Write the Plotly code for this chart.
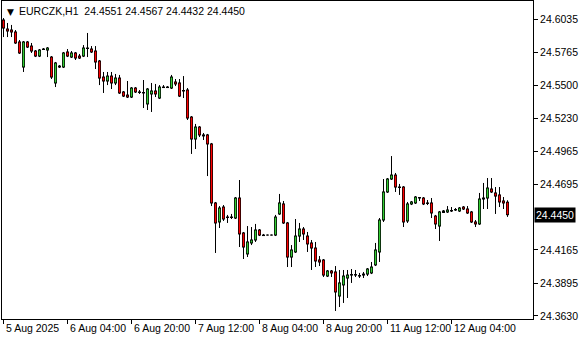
import plotly.graph_objects as go
import pandas as pd

symbol = "EURCZK,H1"

open_ = [24.6027, 24.5954, 24.5946, 24.5930, 24.5849, 24.5646, 24.5849, 24.5816, 24.5776, 24.5735,
         24.5792, 24.5784, 24.5727, 24.5517, 24.5654, 24.5646, 24.5768, 24.5727, 24.5760, 24.5735,
         24.5735, 24.5800, 24.5792, 24.5776, 24.5695, 24.5565, 24.5533, 24.5573, 24.5517, 24.5557,
         24.5444, 24.5419, 24.5403, 24.5476, 24.5444, 24.5436, 24.5347, 24.5428, 24.5452, 24.5395,
         24.5484, 24.5480, 24.5476, 24.5525, 24.5517, 24.5456, 24.5460, 24.5241, 24.5063, 24.5160,
         24.5096, 24.5096, 24.5023, 24.4545, 24.4391, 24.4512, 24.4431, 24.4427, 24.4423, 24.4585,
         24.4302, 24.4132, 24.4221, 24.4245, 24.4326, 24.4285, 24.4285, 24.4285, 24.4285, 24.4456,
         24.4537, 24.4383, 24.4107, 24.4148, 24.4277, 24.4334, 24.4277, 24.4221, 24.4180, 24.4083,
         24.4083, 24.3953, 24.3994, 24.3986, 24.3791, 24.3881, 24.3937, 24.3961, 24.3965, 24.3957,
         24.3961, 24.3969, 24.3978, 24.4043, 24.4148, 24.4407, 24.4634, 24.4739, 24.4771, 24.4674,
         24.4674, 24.4399, 24.4537, 24.4545, 24.4589, 24.4585, 24.4545, 24.4545, 24.4439, 24.4358,
         24.4468, 24.4472, 24.4480, 24.4488, 24.4480, 24.4512, 24.4496, 24.4472, 24.4391, 24.4375,
         24.4577, 24.4585, 24.4658, 24.4626, 24.4610, 24.4561, 24.4551]
high = [24.6043, 24.6003, 24.5987, 24.5946, 24.5865, 24.5857, 24.5857, 24.5841, 24.5784, 24.5792,
        24.5800, 24.5808, 24.5735, 24.5687, 24.5662, 24.5768, 24.5792, 24.5776, 24.5768, 24.5752,
        24.5824, 24.5922, 24.5816, 24.5816, 24.5703, 24.5606, 24.5606, 24.5606, 24.5590, 24.5582,
        24.5452, 24.5533, 24.5484, 24.5484, 24.5460, 24.5541, 24.5476, 24.5517, 24.5509, 24.5500,
        24.5500, 24.5492, 24.5582, 24.5549, 24.5549, 24.5573, 24.5476, 24.5249, 24.5185, 24.5168,
        24.5112, 24.5104, 24.5031, 24.4553, 24.4520, 24.4528, 24.4448, 24.4456, 24.4593, 24.4731,
        24.4310, 24.4358, 24.4350, 24.4375, 24.4334, 24.4294, 24.4290, 24.4290, 24.4448, 24.4618,
        24.4561, 24.4391, 24.4204, 24.4415, 24.4383, 24.4350, 24.4310, 24.4245, 24.4229, 24.4115,
        24.4091, 24.4002, 24.4002, 24.4034, 24.4002, 24.4002, 24.4002, 24.4010, 24.4002, 24.3978,
        24.3986, 24.4018, 24.4067, 24.4221, 24.4423, 24.4739, 24.4747, 24.4925, 24.4788, 24.4699,
        24.4682, 24.4553, 24.4561, 24.4601, 24.4593, 24.4593, 24.4569, 24.4585, 24.4448, 24.4480,
        24.4488, 24.4520, 24.4512, 24.4504, 24.4512, 24.4520, 24.4520, 24.4480, 24.4407, 24.4626,
        24.4707, 24.4747, 24.4747, 24.4674, 24.4674, 24.4593, 24.4567]
low = [24.5889, 24.5889, 24.5889, 24.5833, 24.5752, 24.5606, 24.5800, 24.5760, 24.5727, 24.5727,
       24.5784, 24.5727, 24.5549, 24.5484, 24.5638, 24.5638, 24.5727, 24.5719, 24.5703, 24.5711,
       24.5727, 24.5727, 24.5760, 24.5630, 24.5500, 24.5436, 24.5500, 24.5468, 24.5500, 24.5428,
       24.5403, 24.5395, 24.5395, 24.5436, 24.5428, 24.5314, 24.5298, 24.5282, 24.5403, 24.5387,
       24.5476, 24.5476, 24.5468, 24.5492, 24.5403, 24.5395, 24.5217, 24.4942, 24.4982, 24.5079,
       24.5055, 24.4763, 24.4520, 24.4140, 24.4342, 24.4399, 24.4383, 24.4415, 24.4415, 24.4188,
       24.4091, 24.4107, 24.4204, 24.4229, 24.4277, 24.4281, 24.4281, 24.4281, 24.4277, 24.4448,
       24.4375, 24.4026, 24.4026, 24.4140, 24.4229, 24.4245, 24.4148, 24.4002, 24.4026, 24.4034,
       24.3945, 24.3945, 24.3945, 24.3670, 24.3702, 24.3735, 24.3775, 24.3897, 24.3945, 24.3937,
       24.3937, 24.3953, 24.3969, 24.4034, 24.4067, 24.4391, 24.4626, 24.4731, 24.4634, 24.4610,
       24.4350, 24.4383, 24.4528, 24.4537, 24.4561, 24.4528, 24.4528, 24.4423, 24.4334, 24.4237,
       24.4464, 24.4464, 24.4472, 24.4480, 24.4472, 24.4488, 24.4456, 24.4383, 24.4350, 24.4367,
       24.4496, 24.4496, 24.4626, 24.4456, 24.4512, 24.4496, 24.4432]
close = [24.5962, 24.5938, 24.5930, 24.5841, 24.5760, 24.5849, 24.5808, 24.5776, 24.5735, 24.5784,
         24.5788, 24.5800, 24.5565, 24.5679, 24.5646, 24.5760, 24.5735, 24.5760, 24.5719, 24.5719,
         24.5800, 24.5796, 24.5768, 24.5687, 24.5557, 24.5533, 24.5573, 24.5517, 24.5557, 24.5436,
         24.5411, 24.5403, 24.5476, 24.5444, 24.5440, 24.5440, 24.5468, 24.5452, 24.5428, 24.5484,
         24.5480, 24.5484, 24.5565, 24.5509, 24.5411, 24.5452, 24.5233, 24.5063, 24.5160, 24.5096,
         24.5088, 24.5023, 24.4545, 24.4383, 24.4504, 24.4415, 24.4427, 24.4431, 24.4585, 24.4294,
         24.4188, 24.4229, 24.4245, 24.4326, 24.4285, 24.4281, 24.4285, 24.4285, 24.4431, 24.4545,
         24.4383, 24.4107, 24.4164, 24.4277, 24.4334, 24.4294, 24.4213, 24.4180, 24.4075, 24.4067,
         24.3961, 24.3994, 24.3978, 24.3824, 24.3897, 24.3953, 24.3961, 24.3965, 24.3961, 24.3953,
         24.3969, 24.4010, 24.4026, 24.4164, 24.4407, 24.4634, 24.4739, 24.4771, 24.4674, 24.4670,
         24.4391, 24.4537, 24.4553, 24.4593, 24.4585, 24.4537, 24.4541, 24.4464, 24.4375, 24.4472,
         24.4480, 24.4488, 24.4484, 24.4492, 24.4504, 24.4496, 24.4464, 24.4391, 24.4375, 24.4577,
         24.4585, 24.4666, 24.4634, 24.4601, 24.4553, 24.4545, 24.4450]

price_ticks = [24.6035, 24.5765, 24.5500, 24.5230, 24.4965, 24.4695, 24.4165, 24.3895, 24.3630]
time_ticks = ["2025-08-05 12:00", "2025-08-06 04:00", "2025-08-06 20:00", "2025-08-07 12:00",
              "2025-08-08 04:00", "2025-08-08 20:00", "2025-08-11 12:00", "2025-08-12 04:00"]
time_tick_labels = ["5 Aug 2025", "6 Aug 04:00", "6 Aug 20:00", "7 Aug 12:00",
                    "8 Aug 04:00", "8 Aug 20:00", "11 Aug 12:00", "12 Aug 04:00"]

times = pd.date_range("2025-08-05 12:00", "2025-08-12 18:00", freq="h")
times = times[times.dayofweek < 5]
xs = list(range(len(times)))
time_index = {t.strftime("%Y-%m-%d %H:%M"): i for i, t in enumerate(times)}
tick_pos = [time_index[t] for t in time_ticks]

UP, DOWN = "#32cd32", "#ff0000"
FONT = "Liberation Sans"
W, H = 580, 340
MARGIN = dict(l=2, r=47, t=1, b=21)
Y_RANGE = [24.3605, 24.6181]
X_RANGE = [-0.375, 132.375]
px_y = (Y_RANGE[1] - Y_RANGE[0]) / (H - MARGIN["t"] - MARGIN["b"])   # price per screen pixel

# wicks (full high-low), black body outline (3 px thick line), coloured body fill
wick_x, wick_y = [], []
out_x, out_y = [], []
up_x, up_y, dn_x, dn_y = [], [], [], []
for i, o, h, l, c in zip(xs, open_, high, low, close):
    t, b = max(o, c), min(o, c)
    wick_x += [i, i, None]
    wick_y += [l, h, None]
    out_x += [i, i, None]
    out_y += [b - 0.5 * px_y, t + 0.5 * px_y, None]
    if t - b > 1.5 * px_y:
        if c >= o:
            up_x += [i, i, None]
            up_y += [b + 0.5 * px_y, t - 0.5 * px_y, None]
        else:
            dn_x += [i, i, None]
            dn_y += [b + 0.5 * px_y, t - 0.5 * px_y, None]

fig = go.Figure()
for sx, sy, col, wd in [(wick_x, wick_y, "black", 1), (out_x, out_y, "black", 3),
                        (up_x, up_y, UP, 1.5), (dn_x, dn_y, DOWN, 1.5)]:
    fig.add_trace(go.Scatter(x=sx, y=sy, mode="lines", line=dict(color=col, width=wd),
                             showlegend=False, hoverinfo="skip"))

annotations = []
for p, lab in zip(tick_pos, time_tick_labels):
    annotations.append(dict(x=p, y=0, xref="x", yref="paper", text=lab, showarrow=False,
                            xanchor="left", yanchor="top", xshift=0, yshift=-1,
                            font=dict(family=FONT, size=10.5, color="black")))
last = close[-1]
annotations.append(dict(x=1, y=last, xref="paper", yref="y", text=f"{last:.4f}", showarrow=False,
                        xanchor="left", yanchor="middle", xshift=1,
                        bgcolor="black", borderpad=1,
                        font=dict(family=FONT, size=10.5, color="white")))
annotations.append(dict(x=0, y=1, xref="paper", yref="paper", text="▼", showarrow=False,
                        xanchor="left", yanchor="top", xshift=3, yshift=-4,
                        font=dict(family="DejaVu Sans", size=9, color="black")))
annotations.append(dict(x=0, y=1, xref="paper", yref="paper",
                        text=f"{symbol}  {open_[-1]:.4f} {high[-1]:.4f} {low[-1]:.4f} {close[-1]:.4f}",
                        showarrow=False, xanchor="left", yanchor="top", xshift=15, yshift=-2,
                        font=dict(family=FONT, size=10.5, color="black")))

fig.update_layout(
    width=W, height=H,
    margin=MARGIN,
    paper_bgcolor="white", plot_bgcolor="white",
    annotations=annotations,
    xaxis=dict(range=X_RANGE,
               showgrid=False, zeroline=False, showline=True, mirror=True,
               linecolor="black", linewidth=1, ticks="outside", ticklen=4,
               tickcolor="black", tickvals=tick_pos, showticklabels=False),
    yaxis=dict(side="right", range=Y_RANGE, showgrid=False, zeroline=False,
               showline=True, mirror=True, linecolor="black", linewidth=1,
               ticks="outside", ticklen=4, tickcolor="black",
               tickvals=price_ticks, ticktext=[f"{v:.4f}" for v in price_ticks],
               tickfont=dict(family=FONT, size=10.5, color="black")),
)

fig.write_html("out.html")
